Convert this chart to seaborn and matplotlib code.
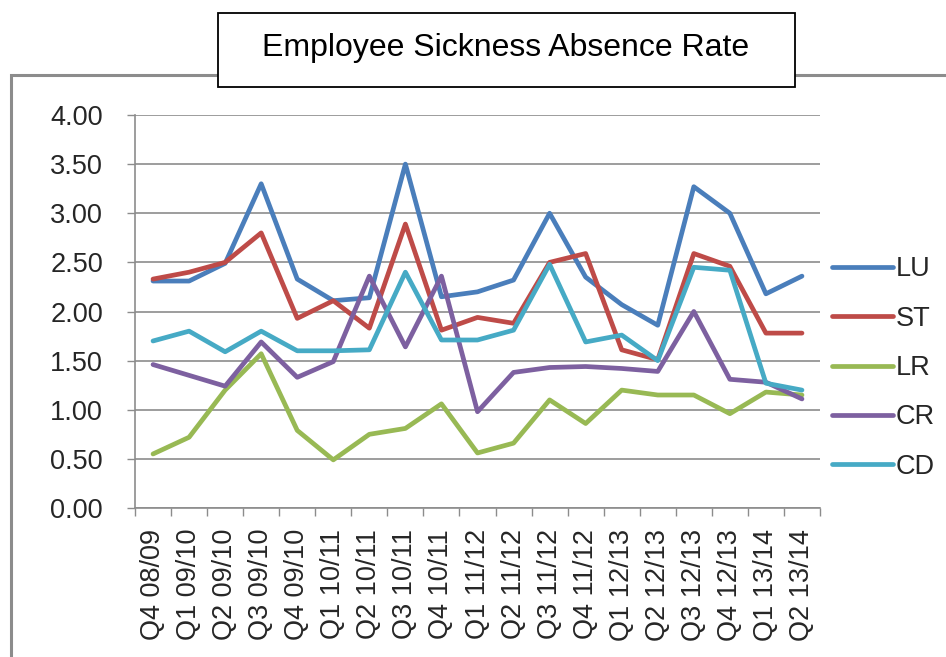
import numpy as np
import pandas as pd
import matplotlib
matplotlib.use("Agg")
import matplotlib.pyplot as plt
import matplotlib.patches as mpatches
from matplotlib.ticker import FixedLocator
import seaborn as sns

# data
quarters = ["Q4 08/09", "Q1 09/10", "Q2 09/10", "Q3 09/10", "Q4 09/10",
            "Q1 10/11", "Q2 10/11", "Q3 10/11", "Q4 10/11", "Q1 11/12",
            "Q2 11/12", "Q3 11/12", "Q4 11/12", "Q1 12/13", "Q2 12/13",
            "Q3 12/13", "Q4 12/13", "Q1 13/14", "Q2 13/14"]
lu = [2.31, 2.31, 2.49, 3.30, 2.33, 2.11, 2.14, 3.50, 2.15, 2.20, 2.32, 3.00, 2.35, 2.07, 1.86, 3.27, 3.00, 2.18, 2.36]
st = [2.33, 2.40, 2.50, 2.80, 1.93, 2.11, 1.83, 2.89, 1.81, 1.94, 1.88, 2.50, 2.59, 1.61, 1.51, 2.59, 2.46, 1.78, 1.78]
lr = [0.55, 0.72, 1.20, 1.57, 0.79, 0.49, 0.75, 0.81, 1.06, 0.56, 0.66, 1.10, 0.86, 1.20, 1.15, 1.15, 0.96, 1.18, 1.15]
cr = [1.46, 1.35, 1.24, 1.69, 1.33, 1.49, 2.36, 1.64, 2.36, 0.98, 1.38, 1.43, 1.44, 1.42, 1.39, 2.00, 1.31, 1.28, 1.11]
cd = [1.70, 1.80, 1.59, 1.80, 1.60, 1.60, 1.61, 2.40, 1.71, 1.71, 1.81, 2.48, 1.69, 1.76, 1.50, 2.45, 2.42, 1.27, 1.20]
series_names = ["LU", "ST", "LR", "CR", "CD"]
colors = ["#4A7EBB", "#BE4B48", "#98B954", "#7D60A0", "#46AAC5"]

frames = []
for name, vals in zip(series_names, [lu, st, lr, cr, cd]):
    frames.append(pd.DataFrame({"pos": np.arange(len(quarters)), "rate": vals, "series": name}))
df = pd.concat(frames, ignore_index=True)

sns.set_style("white")
plt.rcParams["font.family"] = ["Liberation Sans", "DejaVu Sans"]

fig = plt.figure(figsize=(9.46, 6.57), dpi=100)
W, H = 946, 657

# outer chart frame (runs off right/bottom edge)
fig.patches.append(mpatches.Rectangle((11 / W, -0.1), 1.2, 1.1 - 75 / H,
                                      transform=fig.transFigure, facecolor="none",
                                      edgecolor="#8c8c8c", lw=2.2, zorder=0))

ax = fig.add_axes([135 / W, 1 - 508 / H, (820 - 135) / W, (508 - 115) / H])

sns.lineplot(data=df, x="pos", y="rate", hue="series", hue_order=series_names,
             palette=colors, linewidth=3.4, ax=ax, sort=False)
for ln in ax.get_lines():
    ln.set_solid_joinstyle("round")
    ln.set_solid_capstyle("round")

ax.set_xlim(-0.5, len(quarters) - 0.5)
ax.set_ylim(0, 4)
ax.set_yticks(np.arange(0, 4.01, 0.5))
ax.set_yticklabels([f"{v:.2f}" for v in np.arange(0, 4.01, 0.5)])
ax.yaxis.grid(True, color="#8c8c8c", lw=1.2)
ax.set_axisbelow(True)

ax.set_xticks(np.arange(len(quarters)))
ax.set_xticklabels(quarters, rotation=90)
ax.xaxis.set_minor_locator(FixedLocator(np.arange(-0.5, len(quarters), 1.0)))
ax.tick_params(axis="x", which="major", length=0, pad=15, labelsize=19.5)
ax.tick_params(axis="x", which="minor", length=6, width=1, color="#8c8c8c", direction="out")
ax.tick_params(axis="y", length=6, width=1, color="#8c8c8c", direction="out", pad=17, labelsize=19.5)
ax.xaxis.set_ticks_position("bottom")
ax.yaxis.set_ticks_position("left")

ax.set_xlabel("")
ax.set_ylabel("")
for side in ["top", "right"]:
    ax.spines[side].set_visible(False)
for side in ["left", "bottom"]:
    ax.spines[side].set_color("#8c8c8c")
    ax.spines[side].set_linewidth(1.2)

handles, labels = ax.get_legend_handles_labels()
ax.legend(handles, labels, loc="center left", bbox_to_anchor=(808 / W, 1 - 368 / H),
          bbox_transform=fig.transFigure, frameon=False, fontsize=19.5,
          handlelength=2.25, handletextpad=0.1, labelspacing=0.86)

# title box
fig.patches.append(mpatches.Rectangle((218 / W, 1 - 87 / H), 577 / W, 74 / H,
                                      transform=fig.transFigure, facecolor="white",
                                      edgecolor="black", lw=1.3, zorder=5))
fig.text(506 / W, 1 - 48 / H, "Employee Sickness Absence Rate", ha="center", va="center",
         fontsize=23, color="black", zorder=6)

plt.savefig("out.png", dpi=100)
